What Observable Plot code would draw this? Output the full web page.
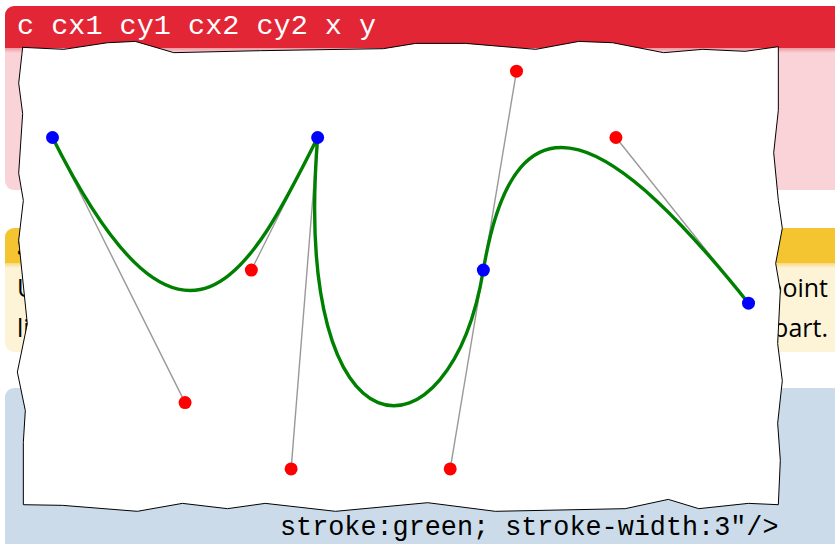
<!DOCTYPE html>
<html>
<head>
<meta charset="utf-8">
<script src="https://cdn.jsdelivr.net/npm/d3@7"></script>
<script src="https://cdn.jsdelivr.net/npm/@observablehq/plot@0.6"></script>
<style>
  html, body { margin: 0; padding: 0; background: #fff; }
  body { position: relative; width: 835px; height: 544px; overflow: hidden; }
  .box { position: absolute; left: 5px; width: 850px; }
  #hdr { top: 6px; height: 42px; background: #e32636; border-radius: 9px 0 0 0;
         color: #fff; font-family: "Liberation Mono", monospace; font-size: 28.5px;
         line-height: 42px; padding-left: 12px; box-sizing: border-box; white-space: pre; }
  #pink { top: 48px; height: 142px; background: linear-gradient(#ef98a1 0px, #f9d3d7 5px, #f9d3d7 100%);
          border-radius: 0 0 0 9px; }
  #yhdr { top: 228px; height: 35px; background: #f5c531; border-radius: 9px 0 0 0;
          font-family: "Open Sans", sans-serif; font-weight: bold; font-size: 25px;
          line-height: 35px; padding-left: 12px; box-sizing: border-box; color: #000; }
  #ybody { top: 263px; height: 89px; background: linear-gradient(#f7d97c 0px, #fdf3d6 5px, #fdf3d6 100%);
           border-radius: 0 0 0 9px; }
  .yline { position: absolute; left: 17px; width: 811px; font-family: "Open Sans", sans-serif;
           font-size: 25px; line-height: 40px; text-align: justify; text-align-last: justify;
           white-space: nowrap; color: #000; }
  #blue { top: 388px; height: 200px; background: #cbdbea; border-radius: 9px 0 0 0; }
  #code { position: absolute; left: 280px; top: 513px; font-family: "Liberation Mono", monospace;
          font-size: 26.8px; line-height: 30px; white-space: pre; color: #000; }
  #chart { position: absolute; left: 0; top: 0; }
</style>
</head>
<body>
<div class="box" id="hdr">c cx1 cy1 cx2 cy2 x y</div>
<div class="box" id="pink"></div>
<div class="box" id="yhdr">S smooth curveto</div>
<div class="box" id="ybody"></div>
<div class="yline" style="top:267px">Use S to extend the curve: its first control point</div>
<div class="yline" style="top:307px">lies opposite the last one, the same distance apart.</div>
<div class="box" id="blue"></div>
<div id="code">stroke:green; stroke-width:3"/&gt;</div>
<div id="chart"></div>
<script>
// Anchor points of the path (start, end of each cubic segment)
const anchorX = [0, 40, 65, 105];
const anchorY = [0, 0, 20, 25];
// First and second control points of each of the three segments
const ctrl1X = [20, 36, 70];
const ctrl1Y = [40, 50, -10];
const ctrl2X = [30, 60, 85];
const ctrl2Y = [20, 50, 0];
// Torn-paper outline (same units as the path)
const paperX = [-4.5, 1.7, 8.3, 12.5, 18.3, 31.4, 49.9, 54.8, 62.3, 72.9, 79.4, 84.5, 92.2, 98.1, 104.5, 109.5,
  109.5, 108.8, 109.5, 110.1, 109.1, 109.8, 109.4, 110.1, 109.4, 109.8, 109.5,
  105.0, 97.5, 92.9, 86.4, 66.8, 56.6, 42.7, 32.1, 26.4, 19.6, 12.8, 1.5, -4.4,
  -4.4, -4.1, -5.3, -3.8, -5.1, -4.4, -5.1, -4.5, -5.1];
const paperY = [-13.6, -13.3, -14.3, -14.5, -12.8, -13.1, -13.4, -14.2, -14.2, -13.3, -14.5, -14.3, -12.8, -13.3, -13.0, -13.7,
  -4.1, 2.3, 9.5, 13.7, 19.0, 23.1, 31.1, 36.7, 43.1, 48.7, 55.4,
  55.2, 56.0, 54.6, 56.0, 56.4, 55.1, 56.4, 55.2, 56.0, 55.2, 56.4, 55.5, 55.4,
  46.0, 41.2, 35.4, 28.1, 15.5, 9.5, 5.4, -3.6, -8.2];

const paper = paperX.map((x, i) => ({x, y: paperY[i]}));
paper.push(paper[0]);

const anchors = anchorX.map((x, i) => ({x, y: anchorY[i]}));
const controls = [];
const handles = [];
const path = [anchors[0]];
for (let i = 0; i < ctrl1X.length; ++i) {
  const c1 = {x: ctrl1X[i], y: ctrl1Y[i]};
  const c2 = {x: ctrl2X[i], y: ctrl2Y[i]};
  controls.push(c1, c2);
  handles.push({x1: anchors[i].x, y1: anchors[i].y, x2: c1.x, y2: c1.y});
  handles.push({x1: c2.x, y1: c2.y, x2: anchors[i + 1].x, y2: anchors[i + 1].y});
  path.push(c1, c2, anchors[i + 1]);
}

// Custom d3 curve: cubic Bézier through (start, c1, c2, end) groups
function bezierCurve(context) {
  let pts = [];
  return {
    areaStart() {}, areaEnd() {},
    lineStart() { pts = []; },
    point(x, y) { pts.push([+x, +y]); },
    lineEnd() {
      if (!pts.length) return;
      context.moveTo(pts[0][0], pts[0][1]);
      for (let i = 1; i + 2 < pts.length; i += 3) {
        context.bezierCurveTo(pts[i][0], pts[i][1], pts[i + 1][0], pts[i + 1][1], pts[i + 2][0], pts[i + 2][1]);
      }
    }
  };
}

const chart = Plot.plot({
  width: 835,
  height: 544,
  margin: 0,
  style: {background: "transparent", overflow: "visible"},
  x: {domain: [0, 105], range: [52, 748], axis: null},
  y: {domain: [0, 50], range: [137, 468.4], axis: null},
  marks: [
    Plot.line(paper, {x: "x", y: "y", fill: "white", stroke: "black", strokeWidth: 1, strokeLinejoin: "miter"}),
    Plot.link(handles, {x1: "x1", y1: "y1", x2: "x2", y2: "y2", stroke: "#999999", strokeWidth: 1.4}),
    Plot.line(path, {x: "x", y: "y", curve: bezierCurve, stroke: "green", strokeWidth: 3.4}),
    Plot.dot(controls, {x: "x", y: "y", r: 6.5, fill: "red", stroke: null}),
    Plot.dot(anchors, {x: "x", y: "y", r: 6.5, fill: "blue", stroke: null})
  ]
});
document.getElementById("chart").appendChild(chart);
</script>
</body>
</html>
